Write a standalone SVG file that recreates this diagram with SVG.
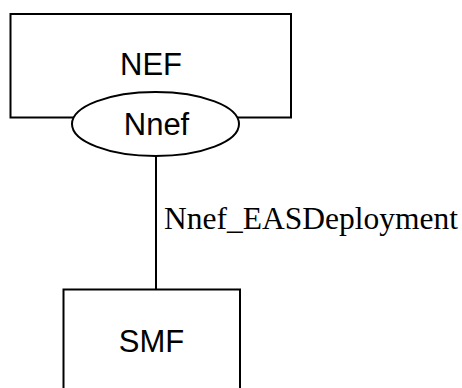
<svg xmlns="http://www.w3.org/2000/svg" width="462" height="388" viewBox="0 0 462 388">
<style>
.box{fill:#fff;stroke:#000;stroke-width:2}
.lbl{font-family:"Liberation Sans",Arial,sans-serif;font-size:31px;fill:#000;text-anchor:middle}
.conn{stroke:#000;stroke-width:2;fill:none}
.clbl{font-family:"Liberation Serif","Times New Roman",serif;font-size:31.5px;fill:#000}
</style>
<rect width="462" height="388" fill="#fff"/>
<g id="connectors">
<line class="conn" x1="156" y1="156" x2="156" y2="289.5"/>
<text class="clbl" x="164" y="229">Nnef_EASDeployment</text>
</g>
<g id="NEF">
<rect class="box" x="10.5" y="14" width="280.5" height="103.5"/>
<text class="lbl" x="151" y="75">NEF</text>
</g>
<g id="Nnef">
<ellipse class="box" cx="155.5" cy="124" rx="83.5" ry="32"/>
<text class="lbl" x="156.5" y="135">Nnef</text>
</g>
<g id="SMF">
<rect class="box" x="63.5" y="289.5" width="176.5" height="110"/>
<text class="lbl" x="151.5" y="352">SMF</text>
</g>
</svg>
